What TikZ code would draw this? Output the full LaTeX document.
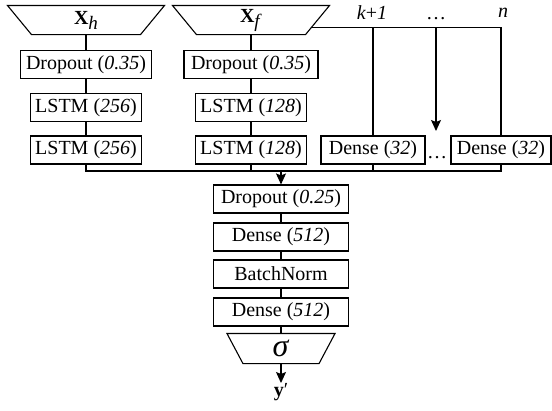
\documentclass[tikz,border=0pt]{standalone}
\usepackage{fontspec}
\setmainfont{Liberation Serif}
\usetikzlibrary{calc,arrows.meta}
\begin{document}
\begin{tikzpicture}[x=1pt,y=-1pt,
  line width=1.1pt,
  lbl/.style={font=\fontsize{20}{24}\selectfont},
  box/.style={draw, rectangle, inner sep=0pt, minimum height=28pt, lbl},
  inv/.style={rectangle, inner sep=0pt, lbl},
  arr/.style={-{Stealth[length=11pt,width=10pt,inset=2pt]}}
]
\useasboundingbox (0,0) rectangle (552,410);

% inputs
\node[inv, minimum width=108pt, minimum height=28pt] (xh) at (86,20) {\textbf{X}\raisebox{-5pt}{\fontsize{19}{20}\selectfont\textit{h}}};
\node[inv, minimum width=108pt, minimum height=28pt] (xf) at (251,20) {\textbf{X}\raisebox{-5pt}{\fontsize{19}{20}\selectfont\textit{f}}};
\draw (xh.south west) -- (xh.south east) -- ($(xh.north east)+(24,0)$) -- ($(xh.north west)+(-24,0)$) -- cycle;
\coordinate (xfTR) at ($(xf.north east)+(24,0)$);
\draw (xf.south west) -- (xf.south east) -- (xfTR) -- ($(xf.north west)+(-24,0)$) -- cycle;

% left column
\node[box, minimum width=131pt] (droph) at (86,64.5) {Dropout (\textit{0.35})};
\node[box, minimum width=111pt] (lstmh1) at (86,107.5) {LSTM (\textit{256})};
\node[box, minimum width=111pt] (lstmh2) at (86,150) {LSTM (\textit{256})};
% second column
\node[box, minimum width=134pt] (dropf) at (251,64.5) {Dropout (\textit{0.35})};
\node[box, minimum width=111pt] (lstmf1) at (251,107.5) {LSTM (\textit{128})};
\node[box, minimum width=111pt] (lstmf2) at (251,150) {LSTM (\textit{128})};
% dense columns
\node[box, minimum width=104pt] (densek) at (373,150) {Dense (\textit{32})};
\node[box, minimum width=100pt] (densen) at (501,150) {Dense (\textit{32})};
\node[lbl] (dots2) at (437,158) {\dots};

% top labels
\node[lbl] (lk) at (372,13) {\textit{k}+\textit{1}};
\node[lbl] (ldots) at (436,19) {\dots};
\node[lbl] (ln) at (503,13) {\textit{n}};

% center column
\node[box, minimum width=135pt] (dropc) at (281,199) {Dropout (\textit{0.25})};
\node[box, minimum width=135pt] (dense1) at (281,237) {Dense (\textit{512})};
\node[box, minimum width=135pt] (bn) at (281,274) {BatchNorm};
\node[box, minimum width=135pt] (dense2) at (281,312) {Dense (\textit{512})};
\node[inv, minimum width=75pt, minimum height=29pt] (sig) at (281,348.5) {\raisebox{-4pt}{\fontsize{32}{32}\selectfont\textit{σ}}};
\draw (sig.south west) -- (sig.south east) -- ($(sig.north east)+(16,0)$) -- ($(sig.north west)+(-16,0)$) -- cycle;
\node[lbl, inner sep=0pt, anchor=north] (yout) at (281,383) {\textbf{y}′};

% connectors
\draw (xh.south) -- (droph);
\draw (droph) -- (lstmh1);
\draw (lstmh1) -- (lstmh2);
\draw (xf.south) -- (dropf);
\draw (dropf) -- (lstmf1);
\draw (lstmf1) -- (lstmf2);

\coordinate (tap) at ($(xf.south east)!0.25!(xfTR)$);
\coordinate (arrend) at (436,131);
\draw (tap) -- (tap -| densen.north);
\draw (densek.north |- tap) -- (densek.north);
\draw (densen.north |- tap) -- (densen.north);
\draw[arr] (arrend |- tap) -- (arrend);

\coordinate (m) at (281,171);
\draw (lstmh2.south) |- (densen.south |- m) -- (densen.south);
\draw (lstmf2.south) -- (lstmf2.south |- m);
\draw (densek.south) -- (densek.south |- m);
\draw[arr] (m) -- (dropc.north);

\draw (dropc) -- (dense1);
\draw (dense1) -- (bn);
\draw (bn) -- (dense2);
\draw (dense2) -- (sig.north);
\draw[arr] (sig.south) -- (yout.north);
\end{tikzpicture}
\end{document}
